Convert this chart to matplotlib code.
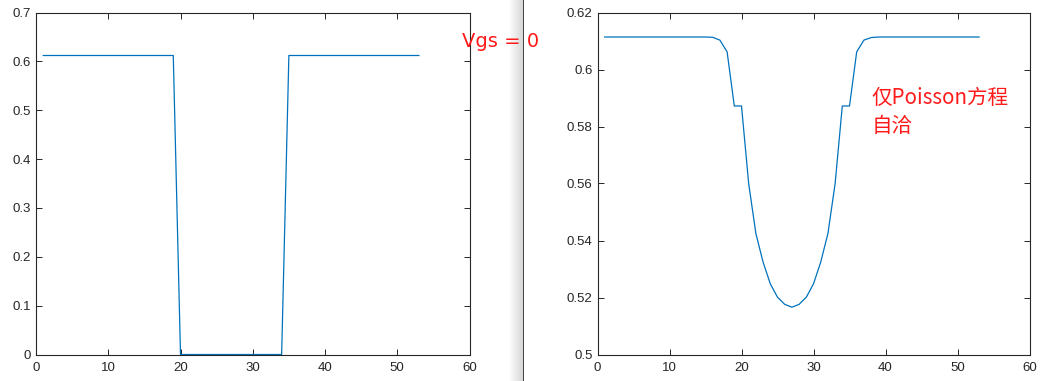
import numpy as np
import matplotlib
matplotlib.use("Agg")
import matplotlib.pyplot as plt

# ---------------- data ----------------
x_left = list(range(1, 54))
y_left = [0.612] * 19 + [0.0] * 15 + [0.612] * 19

x_right = list(range(1, 54))
y_right = ([0.6114] * 15 +
           [0.6113, 0.6103, 0.6062, 0.5872, 0.5872, 0.5599, 0.5424, 0.5324,
            0.5248, 0.5201, 0.5176, 0.5166, 0.5176, 0.5201, 0.5248, 0.5324,
            0.5424, 0.5599, 0.5872, 0.5872, 0.6062, 0.6103, 0.6112] +
           [0.6114] * 15)

left_yticks = [0, 0.1, 0.2, 0.3, 0.4, 0.5, 0.6, 0.7]
left_yticklabels = ["0", "0.1", "0.2", "0.3", "0.4", "0.5", "0.6", "0.7"]
right_yticks = [0.5, 0.52, 0.54, 0.56, 0.58, 0.6, 0.62]
right_yticklabels = ["0.5", "0.52", "0.54", "0.56", "0.58", "0.6", "0.62"]
xticks = [0, 10, 20, 30, 40, 50, 60]
xticklabels = ["0", "10", "20", "30", "40", "50", "60"]

label_left = "Vgs = 0"
label_right_1 = "仅Poisson方程"
label_right_2 = "自洽"

# ---------------- figure ----------------
W, H = 1042, 381
fig = plt.figure(figsize=(W / 100, H / 100), dpi=100)
fig.patch.set_facecolor("white")

line_color = "#0072BD"
axis_color = "#262626"
tick_font = ["Liberation Sans", "DejaVu Sans"]


def fx(px):
    return px / W


def fy(py):
    return (H - py) / H


def style_axes(ax, yticks, ylabels, ylim):
    ax.set_xlim(0, 60)
    ax.set_ylim(*ylim)
    ax.set_xticks(xticks)
    ax.set_xticklabels(xticklabels, family=tick_font, fontsize=9.5, color=axis_color)
    ax.set_yticks(yticks)
    ax.set_yticklabels(ylabels, family=tick_font, fontsize=9.5, color=axis_color)
    ax.tick_params(axis="both", direction="in", length=4, width=0.7,
                   top=True, right=True, colors=axis_color)
    ax.tick_params(axis="x", pad=5.5)
    ax.tick_params(axis="y", pad=3.5)
    for s in ax.spines.values():
        s.set_linewidth(0.8)
        s.set_color(axis_color)


top_px, bot_px = 12.5, 354.5
ax1 = fig.add_axes([fx(36), fy(bot_px), fx(469.5) - fx(36), (bot_px - top_px) / H])
ax1.plot(x_left, y_left, color=line_color, lw=0.9)
style_axes(ax1, left_yticks, left_yticklabels, (0, 0.7))

ax2 = fig.add_axes([fx(597.5), fy(bot_px), fx(1029.5) - fx(597.5), (bot_px - top_px) / H])
ax2.plot(x_right, y_right, color=line_color, lw=0.9)
style_axes(ax2, right_yticks, right_yticklabels, (0.5, 0.62))

# ---------------- window divider (screenshot artefact) ----------------
axd = fig.add_axes([fx(509), 0, fx(523) - fx(509), 1], zorder=1)
grad = np.linspace(1.0, 0.84, 64).reshape(1, -1)
axd.imshow(np.dstack([grad, grad, grad]), aspect="auto", extent=[0, 1, 0, 1])
axd.set_axis_off()
axl = fig.add_axes([fx(522.5), 0, fx(1.6), 1], zorder=1)
axl.set_facecolor("#454545")
axl.set_xticks([])
axl.set_yticks([])
for s in axl.spines.values():
    s.set_visible(False)

# ---------------- annotations ----------------
txt_font = ["Noto Sans CJK SC", "DejaVu Sans"]
fig.text(fx(462.5), fy(46.7), label_left, color="#ff1a1a", fontsize=14,
         family=["DejaVu Sans"], va="baseline", ha="left", zorder=5)
fig.text(fx(871.5), fy(103.5), label_right_1, color="#ff1a1a", fontsize=14.8,
         family=txt_font, va="baseline", ha="left", zorder=5)
fig.text(fx(871.5), fy(131.5), label_right_2, color="#ff1a1a", fontsize=14.8,
         family=txt_font, va="baseline", ha="left", zorder=5)

fig.savefig("out.png", dpi=100, facecolor="white")
